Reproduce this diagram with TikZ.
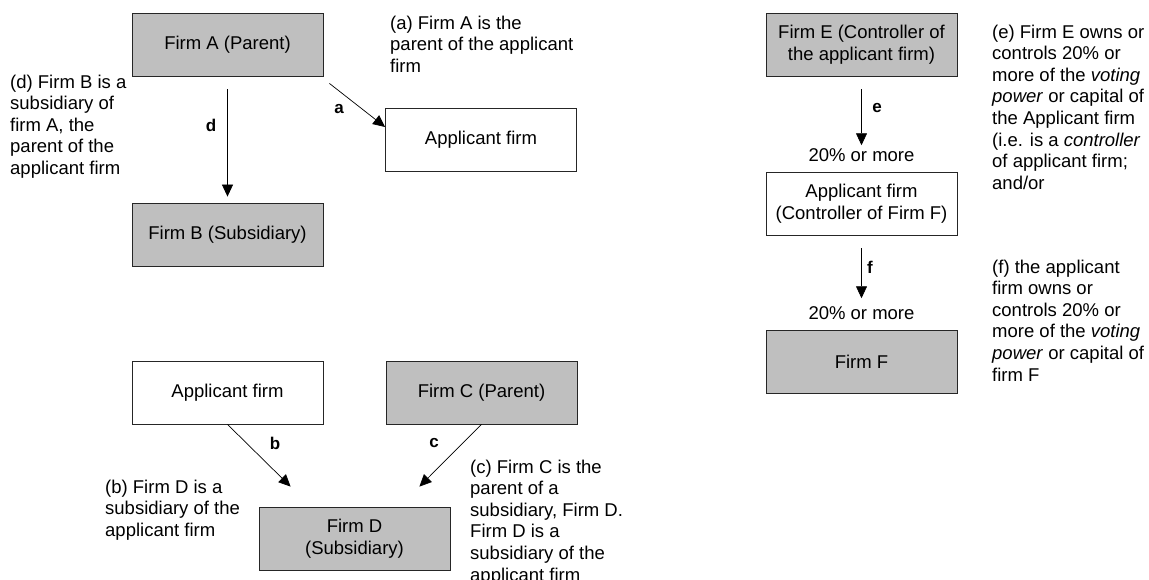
\documentclass[tikz,border=0pt]{standalone}
\usepackage{fontspec}
\setmainfont{Liberation Sans}
\usetikzlibrary{arrows.meta}

\begin{document}
\begin{tikzpicture}[x=1pt,y=-1pt,
  txt/.style={font=\fontsize{18.5}{21.6}\selectfont},
  wbox/.style={txt,rectangle,draw=black!85,line width=.8pt,minimum width=191pt,minimum height=63pt,align=center},
  gbox/.style={wbox,fill=black!25},
  conn/.style={-{Triangle[length=12pt,width=11pt]},line width=.7pt},
  lbl/.style={font=\fontsize{17}{20}\selectfont\bfseries},
  note/.style={txt,anchor=north west,align=left,inner sep=0pt}]
  \useasboundingbox (0,0) rectangle (1149,579);
  \node[gbox] (firmA) at (227.5,44.5) {Firm A (Parent)};
  \node[wbox] (applA) at (481,140) {Applicant firm};
  \node[gbox] (firmB) at (227.5,234.5) {Firm B (Subsidiary)};
  \node[wbox] (applB) at (227.5,392.5) {Applicant firm};
  \node[gbox] (firmC) at (481.5,392.5) {Firm C (Parent)};
  \node[gbox] (firmD) at (354.5,538.5) {Firm D\\(Subsidiary)};
  \node[gbox] (firmE) at (861.5,44.5) {Firm E (Controller of\\the applicant firm)};
  \node[wbox] (applE) at (861.5,203.5) {Applicant firm\\(Controller of Firm F)};
  \node[gbox] (firmF) at (861.5,361.5) {Firm F};
  \node[txt,inner sep=3pt] (pctE) at (861.5,155) {20\% or more};
  \node[txt,inner sep=3pt] (pctF) at (861.5,313) {20\% or more};

  \draw[conn] ([yshift=-13pt]firmA.south) -- ([yshift=6pt]firmB.north);
  \draw[conn] ([shift={(6pt,-7pt)}]firmA.south east) -- ([yshift=13pt]applA.west);
  \draw[conn] (applB.south) -- ([shift={(32pt,20pt)}]firmD.north west);
  \draw[conn] (firmC.south) -- ([shift={(-31pt,20pt)}]firmD.north east);
  \draw[conn] ([yshift=-13pt]firmE.south) -- (pctE.north);
  \draw[conn] ([yshift=-13pt]applE.south) -- ([yshift=5pt]pctF.north);

  \node[lbl] (labA) at (339,109) {a};
  \node[lbl] (labD) at (211,125) {d};
  \node[lbl] (labB) at (275,443) {b};
  \node[lbl] (labC) at (434,443) {c};
  \node[lbl] (labE) at (877,108) {e};
  \node[lbl] (labF) at (870,267) {f};

  \node[note] (noteA) at (390,15.5) {(a) Firm A is the\\parent of the applicant\\firm};
  \node[note] (noteD) at (10,74.5) {(d) Firm B is a\\subsidiary of\\firm A, the\\parent of the\\applicant firm};
  \node[note] (noteB) at (105,479.5) {(b) Firm D is a\\subsidiary of the\\applicant firm};
  \node[note] (noteC) at (470,459.5) {(c) Firm C is the\\parent of a\\subsidiary, Firm D.\\Firm D is a\\subsidiary of the\\applicant firm};
  \node[note] (noteE) at (992,24.5) {(e) Firm E owns or\\controls 20\% or\\more of the \textit{voting}\\\textit{power} or capital of\\the Applicant firm\\(i.e. is a \textit{controller}\\of applicant firm;\\and/or};
  \node[note] (noteF) at (992,259.5) {(f) the applicant\\firm owns or\\controls 20\% or\\more of the \textit{voting}\\\textit{power} or capital of\\firm F};
\end{tikzpicture}
\end{document}
